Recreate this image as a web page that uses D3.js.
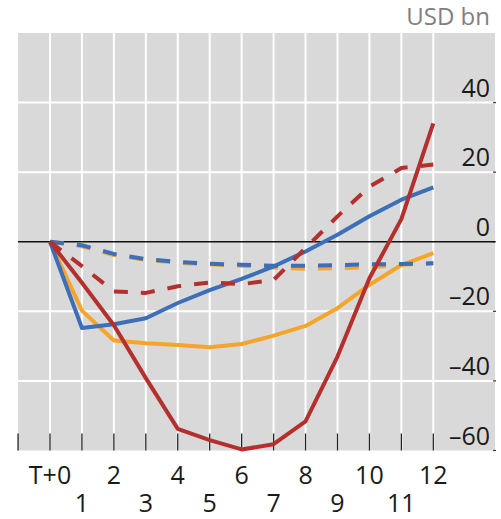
<!DOCTYPE html>
<html>
<head>
<meta charset="utf-8">
<script src="https://cdn.jsdelivr.net/npm/d3@7"></script>
<style>
html,body{margin:0;padding:0;background:#fff;}
svg{display:block;}
text{font-family:"Open Sans",sans-serif;}
</style>
</head>
<body>
<svg id="chart" width="501" height="519"></svg>
<script>
// ---- data ----
const periods = [0,1,2,3,4,5,6,7,8,9,10,11,12];
const xTickLabels = ["T+0","1","2","3","4","5","6","7","8","9","10","11","12"];
const yTicks = [-60,-40,-20,0,20,40];
const yTickLabels = ["\u201360","\u201340","\u201320","0","20","40"];
const unitLabel = "USD bn";

const orangeDashed = [0,-1.3,-3.8,-5.2,-6.0,-6.5,-6.9,-7.4,-7.8,-7.6,-7.3,-6.6,-6.2];
const blueDashed   = [0,-1.0,-3.5,-5.0,-5.8,-6.3,-6.6,-6.9,-6.9,-6.7,-6.5,-6.4,-6.2];
const orangeSolid  = [0,-19.8,-28.4,-29.2,-29.7,-30.3,-29.4,-27.0,-24.2,-19.1,-12.4,-6.7,-3.3];
const blueSolid    = [0,-24.8,-23.7,-22.0,-17.6,-13.9,-10.7,-7.1,-2.8,2.0,7.3,12.1,15.6];
const redDashed    = [0,-7.0,-14.3,-14.7,-12.8,-11.7,-12.2,-11.0,-1.8,7.3,15.8,21.2,22.2];
const redSolid     = [0,-11.8,-24.0,-39.2,-53.8,-57.0,-59.7,-58.2,-51.6,-33.0,-10.5,6.5,34.0];

// ---- layout ----
const svg = d3.select("#chart");
const x = d3.scaleLinear().domain([0,12]).range([50,433.3]);
const y = d3.scaleLinear().domain([-60,60]).range([450.5,33]);
const left = x(-1), right = 495;

const BLUE = "#3c6fb8", ORANGE = "#f4a52a", RED = "#b3302e";

svg.append("rect").attr("x",left).attr("y",y(60))
  .attr("width",right-left).attr("height",y(-60)-y(60)).attr("fill","#d9d9d9");

// horizontal gridlines
svg.append("g").selectAll("line").data(yTicks.filter(d=>d!==0 && d!==-60)).join("line")
  .attr("x1",left).attr("x2",right).attr("y1",d=>y(d)).attr("y2",d=>y(d))
  .attr("stroke","#fff").attr("stroke-width",2);

// vertical gridlines
svg.append("g").selectAll("line").data(periods).join("line")
  .attr("x1",d=>x(d)).attr("x2",d=>x(d)).attr("y1",y(60)).attr("y2",y(-60))
  .attr("stroke","#fff").attr("stroke-width",2);

// bottom ticks
svg.append("g").selectAll("line").data([-1].concat(periods)).join("line")
  .attr("x1",d=>x(d)).attr("x2",d=>x(d)).attr("y1",y(-60)-17).attr("y2",y(-60))
  .attr("stroke","#222").attr("stroke-width",1.3);

// right small ticks
svg.append("g").selectAll("line").data(yTicks).join("line")
  .attr("x1",right-2).attr("x2",right+1).attr("y1",d=>y(d)).attr("y2",d=>y(d))
  .attr("stroke","#444").attr("stroke-width",1.3);

// zero line
svg.append("line").attr("x1",left).attr("x2",right).attr("y1",y(0)).attr("y2",y(0))
  .attr("stroke","#111").attr("stroke-width",1.5);

// y labels
svg.append("g").selectAll("text").data(yTicks).join("text")
  .attr("x",490).attr("y",d=>y(d)-6).attr("text-anchor","end")
  .attr("font-size",25).attr("fill","#1a1a1a")
  .text((d,i)=>yTickLabels[i]);

// x labels
svg.append("g").selectAll("text").data(periods).join("text")
  .attr("x",d=>x(d)).attr("y",d=>d%2===0?484:512).attr("text-anchor","middle")
  .attr("font-size",25).attr("fill","#1a1a1a")
  .text((d,i)=>xTickLabels[i]);

// unit label
svg.append("text").attr("x",490).attr("y",25).attr("text-anchor","end")
  .attr("font-size",24).attr("fill","#808080").text(unitLabel);

// lines
const line = d3.line().x((d,i)=>x(periods[i])).y(d=>y(d));
const series = [
  {v:orangeDashed,c:ORANGE,dash:"14,13"},
  {v:orangeSolid,c:ORANGE,dash:null},
  {v:blueDashed,c:BLUE,dash:"14,13"},
  {v:blueSolid,c:BLUE,dash:null},
  {v:redDashed,c:RED,dash:"14,13"},
  {v:redSolid,c:RED,dash:null}
];
svg.append("g").selectAll("path").data(series).join("path")
  .attr("d",d=>line(d.v)).attr("fill","none").attr("stroke",d=>d.c)
  .attr("stroke-width",4).attr("stroke-linejoin","round")
  .attr("stroke-dasharray",d=>d.dash);
</script>
</body>
</html>
